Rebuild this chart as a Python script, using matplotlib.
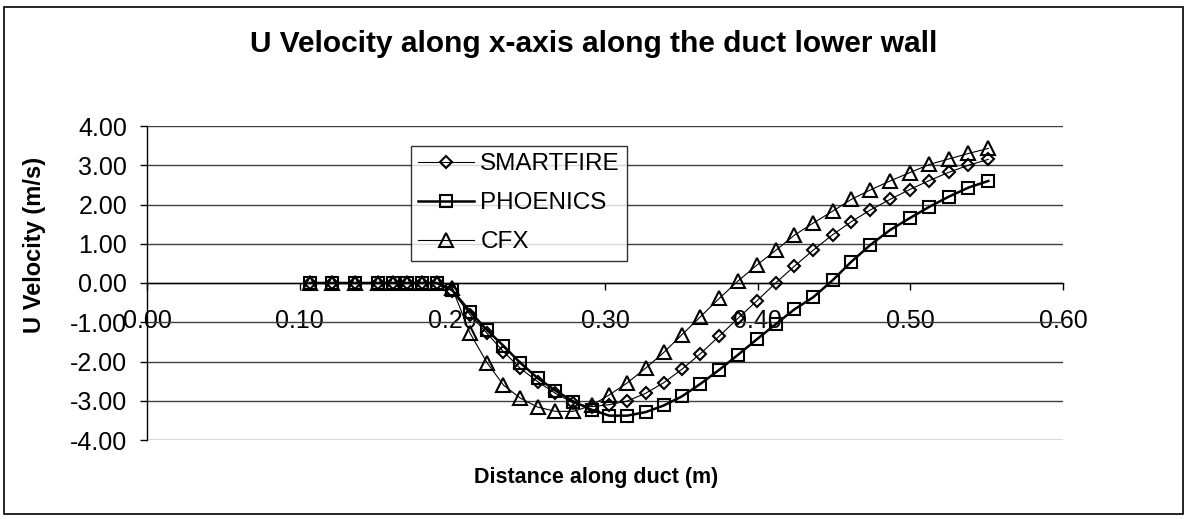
import matplotlib
matplotlib.use('Agg')
import matplotlib.pyplot as plt
from matplotlib.patches import Rectangle
from matplotlib.ticker import FormatStrFormatter, MultipleLocator

plt.rcParams['font.family'] = ['Liberation Sans', 'DejaVu Sans']
plt.rcParams['axes.unicode_minus'] = False

distance = [0.1067, 0.1213, 0.1365, 0.1516, 0.1612, 0.1705, 0.1800, 0.1898,
            0.1999, 0.2116, 0.2227, 0.2335, 0.2444, 0.2558, 0.2675, 0.2793, 0.2913, 0.3028,
            0.3144, 0.3266, 0.3385, 0.3503, 0.3625, 0.3749, 0.3871, 0.3996, 0.4121, 0.4241,
            0.4365, 0.4491, 0.4613, 0.4738, 0.4867, 0.4995, 0.5124, 0.5252, 0.5380, 0.5511]

smartfire = [0.0, 0.0, 0.0, 0.0, 0.0, 0.0, 0.0, 0.0,
             -0.20, -0.81, -1.28, -1.75, -2.17, -2.51, -2.81, -3.06, -3.15, -3.10,
             -3.01, -2.81, -2.54, -2.20, -1.80, -1.35, -0.90, -0.45, 0.01, 0.43,
             0.84, 1.23, 1.56, 1.86, 2.13, 2.38, 2.61, 2.82, 3.00, 3.15]

phoenics = [0.0, 0.0, 0.0, 0.0, 0.0, 0.0, 0.0, 0.0,
            -0.18, -0.73, -1.20, -1.60, -2.03, -2.42, -2.74, -3.02, -3.23, -3.38,
            -3.38, -3.29, -3.12, -2.89, -2.57, -2.21, -1.83, -1.43, -1.04, -0.67,
            -0.36, 0.07, 0.54, 0.97, 1.35, 1.65, 1.94, 2.20, 2.43, 2.60]

cfx = [0.0, 0.0, 0.0, 0.0, 0.0, 0.0, 0.0, 0.0,
       -0.13, -1.28, -2.03, -2.60, -2.93, -3.16, -3.27, -3.27, -3.12, -2.85,
       -2.55, -2.17, -1.77, -1.32, -0.86, -0.39, 0.05, 0.46, 0.84, 1.22,
       1.53, 1.83, 2.13, 2.37, 2.60, 2.81, 3.02, 3.16, 3.30, 3.43]

series_names = ['SMARTFIRE', 'PHOENICS', 'CFX']

W, H = 1188, 519
fig = plt.figure(figsize=(W / 100, H / 100), dpi=100)
fig.patch.set_facecolor('white')

ax = fig.add_axes([147 / W, 1 - 440 / H, (1063 - 147) / W, (440 - 126) / H])
ax.set_xlim(0, 0.6)
ax.set_ylim(-4, 4)

ax.plot(distance, smartfire, color='black', lw=0.8, marker='D', ms=6.5,
        mfc='none', mec='black', mew=1.5, label=series_names[0], clip_on=False)
ax.plot(distance, phoenics, color='black', lw=1.8, marker='s', ms=8,
        mfc='none', mec='black', mew=1.5, label=series_names[1], clip_on=False)
ax.plot(distance, cfx, color='black', lw=0.8, marker='^', ms=10,
        mfc='none', mec='black', mew=1.5, label=series_names[2], clip_on=False)

ax.yaxis.set_major_locator(MultipleLocator(1.0))
ax.xaxis.set_major_locator(MultipleLocator(0.1))
ax.yaxis.set_major_formatter(FormatStrFormatter('%.2f'))
ax.xaxis.set_major_formatter(FormatStrFormatter('%.2f'))

ax.grid(axis='y', color='#404040', lw=1.0)
ax.set_axisbelow(True)
ax.spines['top'].set_visible(False)
ax.spines['right'].set_visible(False)
ax.spines['bottom'].set_position(('data', 0))
for s in ('left', 'bottom'):
    ax.spines[s].set_color('black')
    ax.spines[s].set_linewidth(1.0)

ax.tick_params(axis='x', direction='out', length=5, width=1, pad=14,
               labelsize=18, colors='black')
ax.tick_params(axis='y', direction='out', length=5.3, width=1, pad=9,
               labelsize=18, colors='black')

leg = ax.legend(loc='upper left', bbox_to_anchor=(411 / W, 1 - 146 / H),
                bbox_transform=fig.transFigure, borderaxespad=0,
                fontsize=17.5, frameon=True, fancybox=False, shadow=False,
                handlelength=2.3, handletextpad=0.25, borderpad=0.3,
                labelspacing=0.7)
leg.get_frame().set_edgecolor('black')
leg.get_frame().set_linewidth(1.0)

fig.text(0.5, 1 - 44 / H, 'U Velocity along x-axis along the duct lower wall',
         ha='center', va='center', fontsize=21.5, fontweight='bold')
fig.text(596 / W, 1 - 478 / H, 'Distance along duct (m)',
         ha='center', va='center', fontsize=15.5, fontweight='bold')
fig.text(35 / W, 1 - 245 / H, 'U Velocity (m/s)', rotation=90,
         ha='center', va='center', fontsize=17, fontweight='bold')

fig.patches.append(Rectangle((4 / W, 1 - 514 / H), (1183 - 4) / W, (514 - 7) / H,
                             transform=fig.transFigure, fill=False,
                             edgecolor='black', lw=1.2))

fig.savefig('out.png', dpi=100)
